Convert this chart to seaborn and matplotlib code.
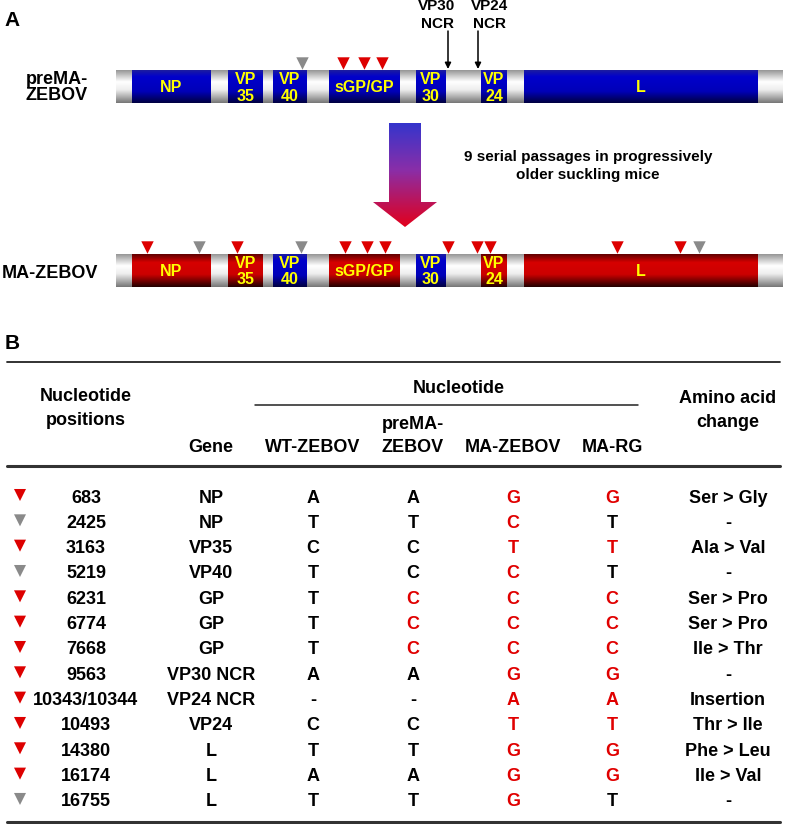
"""
MA-ZEBOV genome diagram (A) and mutation table (B).
"""

import numpy as np
import matplotlib
matplotlib.use("Agg")
import matplotlib.pyplot as plt
from matplotlib.colors import LinearSegmentedColormap
from matplotlib.patches import Polygon
import seaborn as sns

# ─── Style ──────────────────────────────────────────────────────────────────
sns.set_theme(style="white")
plt.rcParams["font.family"] = ["Liberation Sans", "DejaVu Sans"]
plt.rcParams["font.weight"] = "bold"
plt.rcParams["text.color"] = "black"

RED = "#dd0000"
GRAY = "#8a8a8a"
TXT_RED = "#e00000"
YELLOW = "#ffff00"

# ─── Data: genome diagram (diagram units along the genome bar) ──────────────
genome_span = [116, 783]
gene_names = ["NP", "VP\n35", "VP\n40", "sGP/GP", "VP\n30", "VP\n24", "L"]
gene_start = [132, 228, 273, 329, 416, 481, 524]
gene_end = [211, 263, 307, 400, 446, 507, 758]
prema_colors = ["blue", "blue", "blue", "blue", "blue", "blue", "blue"]
ma_colors = ["red", "red", "blue", "red", "blue", "red", "red"]

prema_red_sites = [343, 364, 382]
prema_gray_sites = [302]
ma_red_sites = [147, 237, 345, 367, 385, 448, 477, 490, 617, 680]
ma_gray_sites = [199, 301, 699]

ncr_labels = ["VP30\nNCR", "VP24\nNCR"]
ncr_sites = [448, 478]
ncr_label_x = [437, 490]

# ─── Data: mutation table ───────────────────────────────────────────────────
positions = ["683", "2425", "3163", "5219", "6231", "6774", "7668", "9563",
             "10343/10344", "10493", "14380", "16174", "16755"]
genes = ["NP", "NP", "VP35", "VP40", "GP", "GP", "GP", "VP30 NCR",
         "VP24 NCR", "VP24", "L", "L", "L"]
wt_zebov = ["A", "T", "C", "T", "T", "T", "T", "A", "-", "C", "T", "A", "T"]
prema_zebov = ["A", "T", "C", "C", "C", "C", "C", "A", "-", "C", "T", "A", "T"]
ma_zebov = ["G", "C", "T", "C", "C", "C", "C", "G", "A", "T", "G", "G", "G"]
ma_rg = ["G", "T", "T", "T", "C", "C", "C", "G", "A", "T", "G", "G", "T"]
aa_change = ["Ser > Gly", "-", "Ala > Val", "-", "Ser > Pro", "Ser > Pro",
             "Ile > Thr", "-", "Insertion", "Thr > Ile", "Phe > Leu",
             "Ile > Val", "-"]
# which nucleotide columns are printed in red (P=preMA, M=MA-ZEBOV, R=MA-RG)
red_cells = ["MR", "M", "MR", "M", "PMR", "PMR", "PMR", "MR", "MR", "MR",
             "MR", "MR", "M"]
site_kind = ["red", "gray", "red", "gray", "red", "red", "red", "red", "red",
             "red", "red", "red", "gray"]

# ─── Colormaps ──────────────────────────────────────────────────────────────
CMAPS = {
    "gray": LinearSegmentedColormap.from_list(
        "g", [(0, "#969696"), (0.35, "#ffffff"), (0.6, "#eeeeee"), (1, "#767676")]),
    "blue": LinearSegmentedColormap.from_list(
        "b", [(0, "#1c1ca0"), (0.2, "#0000cc"), (0.65, "#0000b8"), (1, "#000040")]),
    "red": LinearSegmentedColormap.from_list(
        "r", [(0, "#600000"), (0.25, "#d60000"), (0.62, "#cc0000"), (1, "#220000")]),
}
GRAD = np.linspace(0, 1, 128).reshape(-1, 1)


def draw_box(ax, x0, x1, y0, y1, kind):
    ax.imshow(GRAD, cmap=CMAPS[kind], extent=(x0, x1, y1, y0),
              aspect="auto", interpolation="bilinear", zorder=2)


def draw_genome(ax, y0, y1, colors, red_sites, gray_sites, label, label_lines):
    draw_box(ax, genome_span[0], genome_span[1], y0, y1, "gray")
    for name, s, e, c in zip(gene_names, gene_start, gene_end, colors):
        draw_box(ax, s, e, y0, y1, c)
        xc = (s + e) / 2
        parts = name.split("\n")
        if len(parts) == 1:
            ax.text(xc, (y0 + y1) / 2 + 1, name, color=YELLOW, fontsize=11.5,
                    ha="center", va="center", zorder=3)
        else:
            ax.text(xc, y0 + 9, parts[0], color=YELLOW, fontsize=11.5,
                    ha="center", va="center", zorder=3)
            ax.text(xc, y0 + 26, parts[1], color=YELLOW, fontsize=11.5,
                    ha="center", va="center", zorder=3)
    ty = y0 - 7
    sns.scatterplot(x=red_sites, y=[ty] * len(red_sites), ax=ax, marker="v",
                    s=80, color=RED, linewidth=0, legend=False, zorder=4)
    sns.scatterplot(x=gray_sites, y=[ty] * len(gray_sites), ax=ax, marker="v",
                    s=80, color=GRAY, linewidth=0, legend=False, zorder=4)
    for i, line in enumerate(label_lines):
        ax.text(label[0], label[1] + i * 16, line, fontsize=13,
                ha="center", va="center")


fig = plt.figure(figsize=(7.85, 8.24), dpi=100)
ax = fig.add_axes([0, 0, 1, 1])

# ─── Panel A ────────────────────────────────────────────────────────────────
ax.text(12, 20, "A", fontsize=15, ha="center", va="center")
draw_genome(ax, 70, 103, prema_colors, prema_red_sites, prema_gray_sites,
            (57, 79), ["preMA-", "ZEBOV"])
draw_genome(ax, 254, 287, ma_colors, ma_red_sites, ma_gray_sites,
            (50, 273), ["MA-ZEBOV"])

for lab, xs, xl in zip(ncr_labels, ncr_sites, ncr_label_x):
    top, bottom = lab.split("\n")
    ax.text(xl, 6, top, fontsize=11, ha="center", va="center")
    ax.text(xl, 24, bottom, fontsize=11, ha="center", va="center")
    ax.annotate("", xy=(xs, 69), xytext=(xs, 31),
                arrowprops=dict(arrowstyle="-|>", color="black", lw=1.1,
                                mutation_scale=9, shrinkA=0, shrinkB=0))

# gradient arrow (blue -> red)
arrow_xy = [(389, 123), (421, 123), (421, 202), (437, 202), (405, 227),
            (373, 202), (389, 202)]
arrow_patch = Polygon(arrow_xy, closed=True, facecolor="none", edgecolor="none")
ax.add_patch(arrow_patch)
arrow_cmap = LinearSegmentedColormap.from_list(
    "arr", [(0, "#3535cc"), (0.45, "#8a2ea8"), (1, "#e2001c")])
im = ax.imshow(GRAD, cmap=arrow_cmap, extent=(373, 437, 227, 123),
               aspect="auto", interpolation="bilinear", zorder=2)
im.set_clip_path(arrow_patch)

ax.text(588, 157, "9 serial passages in progressively", fontsize=11,
        ha="center", va="center")
ax.text(588, 175, "older suckling mice", fontsize=11, ha="center", va="center")

# ─── Panel B ────────────────────────────────────────────────────────────────
ax.text(12, 343, "B", fontsize=15, ha="center", va="center")
ax.plot([7, 780], [362, 362], color="#222222", lw=1.3)
ax.plot([255, 638], [405, 405], color="#222222", lw=1.1)
ax.plot([7, 780], [466, 466], color="#333333", lw=2.2)
ax.plot([7, 780], [822, 822], color="#333333", lw=2.2)

col_x = {"site": 20, "pos": 86, "gene": 211, "wt": 313, "pre": 413,
         "ma": 513, "rg": 612, "aa": 728}
hdr = dict(fontsize=13, ha="center", va="center")
ax.text(col_x["pos"], 396, "Nucleotide", **hdr)
ax.text(col_x["pos"], 420, "positions", **hdr)
ax.text(col_x["gene"], 447, "Gene", **hdr)
ax.text(459, 388, "Nucleotide", **hdr)
ax.text(col_x["wt"], 447, "WT-ZEBOV", **hdr)
ax.text(col_x["pre"], 424, "preMA-", **hdr)
ax.text(col_x["pre"], 447, "ZEBOV", **hdr)
ax.text(col_x["ma"], 447, "MA-ZEBOV", **hdr)
ax.text(col_x["rg"], 447, "MA-RG", **hdr)
ax.text(col_x["aa"], 398, "Amino acid", **hdr)
ax.text(col_x["aa"], 422, "change", **hdr)

row_y = 498 + 25.33 * np.arange(len(positions))
kind_color = {"red": RED, "gray": GRAY}
sns.scatterplot(x=[col_x["site"]] * len(positions), y=row_y - 3, ax=ax,
                hue=site_kind, palette=kind_color, marker="v", s=75,
                linewidth=0, legend=False, zorder=4)

body = dict(fontsize=13, ha="center", va="center")
for i, y in enumerate(row_y):
    ax.text(col_x["pos"], y, positions[i], color="black", **body)
    ax.text(col_x["gene"], y, genes[i], color="black", **body)
    ax.text(col_x["wt"], y, wt_zebov[i], color="black", **body)
    for key, flag, vals in (("pre", "P", prema_zebov), ("ma", "M", ma_zebov),
                            ("rg", "R", ma_rg)):
        c = TXT_RED if flag in red_cells[i] else "black"
        ax.text(col_x[key], y, vals[i], color=c, **body)
    ax.text(col_x["aa"], y, aa_change[i], color="black", **body)

ax.set_xlim(0, 785)
ax.set_ylim(824, 0)
ax.axis("off")
fig.savefig("out.png", dpi=100, facecolor="white")
